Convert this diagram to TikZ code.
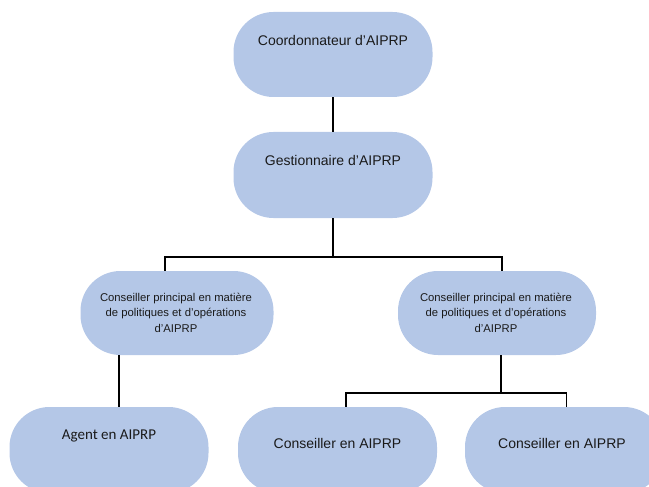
\documentclass[tikz,border=0pt]{standalone}
\usepackage{fontspec}
\setmainfont{Liberation Sans}
\newfontfamily\calibri{Carlito}
\definecolor{boxfill}{HTML}{B4C7E7}
\definecolor{txt}{HTML}{1A1A1A}
\begin{document}
\begin{tikzpicture}[x=1pt,y=-1pt,
  orgbox/.style={rectangle, rounded corners=40pt, fill=boxfill, draw=none, inner sep=0pt},
  lbl/.style={text=txt, font=\fontsize{14}{16}\selectfont, inner sep=0pt, align=center},
  smalllbl/.style={text=txt, font=\fontsize{11.3}{15.5}\selectfont, inner sep=0pt, align=center},
  conn/.style={draw=black, line width=1.8pt}]
\useasboundingbox (0,0) rectangle (649,487);
% boxes
\node[orgbox, minimum width=199pt, minimum height=85pt] (coord) at (333,54.5) {};
\node[orgbox, minimum width=199pt, minimum height=86pt] (gest) at (333,175) {};
\node[orgbox, minimum width=193pt, minimum height=84pt] (cp1) at (177,313) {};
\node[orgbox, minimum width=198pt, minimum height=84pt] (cp2) at (497,313) {};
\node[orgbox, minimum width=199pt, minimum height=86pt] (agent) at (109,450) {};
\node[orgbox, minimum width=199pt, minimum height=86pt] (cons1) at (337.5,450) {};
\node[orgbox, minimum width=199pt, minimum height=86pt] (cons2) at (564.5,450) {};
% labels
\node[lbl] (tcoord) at (333,40) {Coordonnateur d’AIPRP};
\node[lbl] (tgest) at (333,160) {Gestionnaire d’AIPRP};
\node[smalllbl] (tcp1) at (176,312.5) {Conseiller principal en matière\\de politiques et d’opérations\\d’AIPRP};
\node[smalllbl] (tcp2) at (496,312.5) {Conseiller principal en matière\\de politiques et d’opérations\\d’AIPRP};
\node[text=txt, font=\calibri\fontsize{15}{17}\selectfont, inner sep=0pt] (tagent) at (109,436) {Agent en AIPRP};
\node[lbl] (tcons1) at (337.5,443) {Conseiller en AIPRP};
\node[lbl] (tcons2) at (562,443) {Conseiller en AIPRP};
% connectors
\coordinate (j1) at (333,257);
\coordinate (j2) at (501,393);
\draw[conn] (coord.south) -- (gest.north);
\draw[conn] (gest.south) -- (j1);
\draw[conn] ([xshift=-12pt]cp1.north) |- (j1) -| ([xshift=5pt]cp2.north);
\draw[conn] ([xshift=-58pt]cp1.south) -- ([xshift=10pt]agent.north);
\draw[conn] ([xshift=4pt]cp2.south) -- (j2);
\draw[conn] ([xshift=8.5pt]cons1.north) |- (j2) -| ([xshift=2pt]cons2.north);
\end{tikzpicture}
\end{document}
